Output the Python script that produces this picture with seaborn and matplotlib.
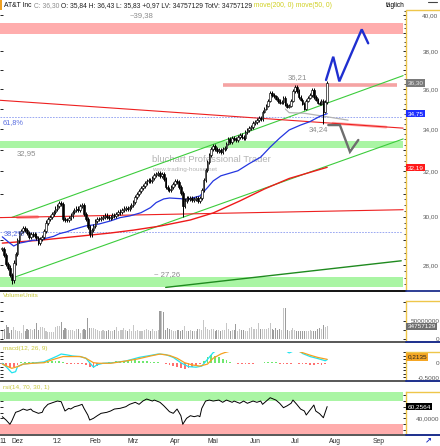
import numpy as np
import pandas as pd
import matplotlib
matplotlib.use("Agg")
import matplotlib.pyplot as plt
import matplotlib.transforms as mtransforms
from matplotlib.lines import Line2D
from matplotlib.patches import Rectangle
from matplotlib.ticker import FixedLocator, FuncFormatter, NullFormatter
import seaborn as sns

# ---------------- data (x = trading day, 0 = 1 Dec 2011) ----------------
first_day = -8
closes = [
    28.65, 28.40, 28.05, 27.90, 27.60, 27.40, 28.10, 28.45,
    29.00, 29.30, 29.40, 29.50, 29.45, 29.30, 29.15, 29.25, 29.25, 29.20,
    29.10, 28.90, 29.05, 29.15, 29.40, 29.75, 29.90, 30.00, 30.10, 30.20,
    30.35, 30.45, 30.60, 30.55, 29.90, 29.85, 29.85, 29.95, 30.05, 30.20,
    30.30, 30.35, 30.30, 30.45, 30.50, 30.10, 29.90, 29.55, 29.25, 29.45,
    29.60, 29.80, 29.90, 29.90, 29.95, 30.00, 30.05, 30.00, 29.95, 30.00,
    30.08, 30.05, 30.12, 30.18, 30.22, 30.30, 30.35, 30.38, 30.35, 30.42,
    30.50, 30.62, 30.85, 31.00, 31.10, 31.25, 31.35, 31.48, 31.55, 31.62,
    31.58, 31.70, 31.82, 31.88, 31.92, 31.80, 31.88, 31.65, 31.28, 31.20,
    31.15, 31.30, 31.42, 31.55, 31.50, 31.30, 31.05, 30.45, 30.70, 30.82,
    30.78, 30.80, 30.72, 30.75, 30.82, 30.70, 30.82, 31.15, 31.60, 32.05,
    32.45, 32.75, 33.05, 33.20, 33.05, 32.95, 33.00, 32.90, 33.05, 33.10,
    33.30, 33.50, 33.35, 33.55, 33.50, 33.45, 33.62, 33.70, 33.60, 33.55,
    33.85, 33.95, 34.05, 34.10, 34.28, 34.35, 34.43, 34.55, 34.50, 34.85,
    35.00, 35.15, 35.40, 35.80, 35.70, 35.62, 35.50, 35.38, 35.30, 35.32,
    35.55, 35.20, 35.10, 35.15, 35.40, 35.90, 36.10, 35.90, 35.60, 35.45,
    35.25, 35.00, 35.40, 35.55, 35.70, 35.95, 35.60, 35.45, 35.30, 35.25,
    35.40, 34.85, 35.33, 36.30,
]
volumes = [  # million shares
    23, 27, 38, 34, 16, 25, 34, 25, 23, 21,
    16, 38, 21, 27, 25, 27, 25, 27, 45, 25,
    34, 32, 30, 21, 19, 19, 19, 19, 34, 36,
    36, 47, 25, 30, 27, 25, 25, 25, 23, 27,
    27, 18, 25, 27, 24, 56,
    30, 30, 30, 27, 25,
    23, 23, 25, 23, 23, 25, 23, 23, 25, 34,
    21, 25, 25, 30, 25, 23, 27, 21, 38, 23,
    26, 22,
    21, 21, 25, 27, 25, 21, 27, 21, 21, 25,
    77, 77, 74,
    25, 31, 27, 25, 23, 23, 25,
    25, 21, 25, 36, 23, 23, 25, 21, 21, 23,
    27, 27, 24, 52,
    34, 27, 25, 27, 27, 23, 25,
    25, 23, 25, 25, 43, 27, 23, 25, 25, 41,
    23, 27, 25, 25, 23, 23, 30, 32, 27, 27,
    27, 43, 27, 27, 27, 27, 30, 43, 27, 25,
    30, 25, 28, 24, 83, 83,
    25, 21, 25, 30, 25, 23,
    23, 23, 23, 21, 23, 23, 25, 21, 23, 23,
    27, 30, 27, 38, 34, 34.76,
]
wick_lows = {-3: 27.26, 87: 30.00, 161: 34.24}
wick_highs = {146: 36.21, 163: 36.43}

ma50_days = [-8, -5, -2, 1, 5, 8, 12, 15, 19, 22, 26, 29, 33, 36, 40, 43, 49, 54, 59, 65,
             70, 73, 77, 80, 86, 89, 92, 96, 100, 103, 107, 116, 122, 128, 133, 138, 143,
             149, 154, 159, 163]
ma50_vals = [29.15, 28.95, 28.77, 28.89, 28.95, 29.01, 29.01, 29.09, 29.17, 29.28, 29.36,
             29.45, 29.54, 29.61, 29.65, 29.69, 29.82, 29.96, 30.03, 30.17, 30.39, 30.61,
             30.77, 30.81, 30.78, 30.74, 30.81, 30.90, 31.27, 31.57, 31.80, 32.03, 32.36,
             32.66, 33.13, 33.56, 33.95, 34.19, 34.36, 34.61, 34.75]
ma200_days = [-8, 12, 33, 49, 61, 75, 91, 103, 117, 130, 143, 163]
ma200_vals = [28.89, 29.01, 29.18, 29.31, 29.43, 29.60, 29.86, 30.16, 30.68, 31.21, 31.68, 32.19]

macd_days = [-8, -6, -3, -1, 0, 3, 7, 10, 14, 17, 21, 23, 26, 29, 33, 36, 38, 40, 42, 45,
             50, 57, 64, 70, 74, 78, 82, 86, 90, 94, 97, 100, 103, 106, 112, 120, 128, 134,
             138, 141, 143, 145, 147, 149, 150, 154, 158, 162, 163]
macd_vals = [-0.01, -0.13, -0.35, -0.31, -0.13, -0.04, -0.01, 0.01, 0.04, 0.13, 0.25, 0.32,
             0.29, 0.25, 0.23, 0.17, 0.01, -0.15, -0.06, -0.01, 0.01, 0.07, 0.20, 0.27, 0.32,
             0.30, 0.20, 0.01, -0.13, -0.15, -0.11, 0.13, 0.37, 0.50, 0.60, 0.55, 0.50, 0.55,
             0.50, 0.45, 0.36, 0.42, 0.44, 0.40, 0.34, 0.23, 0.16, 0.08, 0.12]
signal_days = [-8, -6, -3, 0, 3, 8, 14, 19, 24, 28, 33, 36, 40, 43, 49, 56, 63, 70, 75, 80,
               84, 88, 92, 96, 100, 103, 107, 109, 115, 125, 135, 143, 148, 150, 154, 158, 163]
signal_vals = [-0.04, -0.10, -0.19, -0.13, -0.04, -0.01, 0.01, 0.13, 0.23, 0.23, 0.23, 0.17,
               0.01, -0.01, -0.01, 0.06, 0.14, 0.25, 0.32, 0.27, 0.17, 0.01, -0.07, -0.11,
               -0.04, 0.17, 0.32, 0.37, 0.48, 0.52, 0.50, 0.47, 0.42, 0.37, 0.28, 0.20, 0.13]
hist_days = list(range(-8, 163, 2))
hist_vals = [-0.05, -0.12, -0.18, -0.15, -0.06, 0.03, 0.05, 0.04, 0.03, 0.02,
             0.00, 0.02, 0.05, 0.07, 0.08, 0.07, 0.03, -0.02, -0.03, -0.02,
             -0.03, -0.02, -0.08, -0.16, -0.18, -0.10, -0.04, 0.00, 0.02, 0.04,
             0.06, 0.05, 0.06, 0.08, 0.09, 0.10, 0.08, 0.07, 0.06, 0.05,
             0.04, 0.02, 0.00, -0.03, -0.08, -0.12, -0.15, -0.17, -0.20, -0.18,
             -0.14, -0.10, -0.05, 0.08, 0.20, 0.28, 0.25, 0.20, 0.15, 0.10,
             0.05, 0.01, -0.02, -0.03, -0.03, -0.02, -0.03, -0.01, 0.01, 0.04,
             0.05, 0.04, 0.02, -0.02, -0.05, -0.05, -0.03, 0.00, -0.02, -0.04,
             -0.05, -0.06, -0.06, -0.05, -0.06, -0.04]

rsi_days = [-8, -6, -4, -3, -1, 1, 3, 5, 7, 8, 11, 13, 14, 16, 19, 21, 23, 25, 27, 28, 30,
            32, 34, 35, 37, 38, 40, 42, 44, 47, 49, 51, 54, 57, 59, 62, 64, 66, 68, 71, 72,
            75, 77, 78, 80, 82, 84, 86, 87, 89, 91, 93, 95, 96, 97, 99, 101, 103, 106, 108,
            110, 113, 114, 117, 119, 121, 124, 126, 128, 129, 131, 133, 136, 138, 140, 142,
            144, 145, 147, 149, 151, 152, 154, 156, 157, 159, 161, 163]
rsi_vals = [42.8, 37, 29.7, 35.4, 50.3, 52.6, 56, 53.8, 56, 52.6, 48.6, 50.3, 57.2, 64.1,
            67.6, 69.8, 68.6, 52.6, 57.2, 56, 60, 61.7, 64.1, 57.2, 45.7, 37, 40, 44.5, 48.6,
            50.3, 52.6, 56, 57.2, 60, 64.1, 67.6, 64.1, 69.8, 73.3, 69.8, 71.5, 67.6, 61.7,
            58.3, 51.4, 48.6, 56, 44.5, 29.7, 40, 44.5, 42.8, 44.5, 42.8, 57.2, 69.8, 71.5,
            69.8, 71.5, 67.6, 71.5, 67.6, 69.8, 65.9, 69.8, 65.9, 69.8, 67.6, 69.8, 64.1,
            69.8, 75.5, 71.5, 65.9, 58.3, 61.7, 65.9, 71.5, 64.1, 56, 52.6, 45.7, 54.3, 62.9,
            52.6, 48, 41, 60.26]

month_days = [-7.6, 0, 21, 41, 61, 83, 103, 125, 146, 167, 190]
month_names = ["11", "Dez", "'12", "Feb", "Mrz", "Apr", "Mai", "Jun", "Jul", "Aug", "Sep"]

# drawn analysis objects (levels in price, ends in trading days)
top_band = (38.96, 39.55)
mid_band = (33.07, 33.43)
low_band = (27.15, 27.51)
resistance, resistance_days = 36.21, (108, 200)
fib_levels = [34.60, 29.36]
channel_days = [-3, 203]
channel_upper = [29.97, 36.69]
channel_lower = [27.48, 33.52]
red_down_days, red_down = [-9.2, 203], [35.42, 34.04]
red_flat_days, red_flat = [-9.2, 203], [29.96, 30.30]
support_days, support = [78, 202], [27.12, 28.17]
neck_days, neck_vals = [141, 143, 151, 162, 174], [34.98, 34.80, 34.77, 34.61, 34.43]
bull_days, bull_vals = [162.4, 166.2, 169.4, 181.2, 184.6], [36.46, 37.69, 36.39, 39.19, 38.42]
bear_days, bear_vals = [163.6, 169.7, 175, 179.4], [34.19, 34.19, 32.91, 33.47]

# ---------------- figure ----------------
sns.set_style("white")
plt.rcParams["font.family"] = ["Liberation Sans", "DejaVu Sans"]

W, H = 440.0, 446.0
fig = plt.figure(figsize=(4.4, 4.46), dpi=100)


def px_box(x0, y0, x1, y1):
    return [x0 / W, 1 - y1 / H, (x1 - x0) / W, (y1 - y0) / H]


def fig_text(px, py, s, **kw):
    return fig.text(px / W, 1 - py / H, s, **kw)


def fig_line(x0, x1, y, **kw):
    fig.add_artist(Line2D([x0 / W, x1 / W], [1 - y / H] * 2, transform=fig.transFigure, **kw))


ax = fig.add_axes(px_box(0, 10, 406, 290))
ax_vol = fig.add_axes(px_box(0, 301, 406, 340), sharex=ax)
ax_macd = fig.add_axes(px_box(0, 352.3, 406, 380), sharex=ax)
ax_rsi = fig.add_axes(px_box(0, 391.7, 406, 433.5), sharex=ax)

YELLOW = "#eec64a"
for a in (ax, ax_vol, ax_macd, ax_rsi):
    a.set_facecolor("white")
    for s in ("top", "left", "bottom"):
        a.spines[s].set_visible(False)
    a.spines["right"].set_color(YELLOW)
    a.spines["right"].set_linewidth(1.0)
ax.spines["right"].set_linestyle((0, (1, 1)))

days = np.arange(first_day, first_day + len(closes))
price = pd.DataFrame({"day": days, "close": closes, "volume": volumes})
price["open"] = price["close"].shift(1).fillna(price["close"].iloc[0])
price["up"] = price["close"] >= price["open"]
body_lo = price[["open", "close"]].min(axis=1)
body_hi = price[["open", "close"]].max(axis=1)
wick = 0.09
lo = (body_lo - wick).copy()
hi = (body_hi + wick).copy()
for d, v in wick_lows.items():
    lo[price["day"] == d] = v
for d, v in wick_highs.items():
    hi[price["day"] == d] = v

# bands and levels
ax.axhspan(*top_band, xmax=0.993, color="#ffadad", lw=0, zorder=1)
ax.axhspan(*mid_band, xmax=0.993, color="#aaf5a4", lw=0, zorder=1)
ax.axhspan(*low_band, xmax=0.993, color="#aaf5a4", lw=0, zorder=1)
for lv in fib_levels:
    ax.axhline(lv, xmax=0.99, color="#8a9af0", lw=0.6, ls=(0, (2, 1.5)), zorder=2)
ax.hlines(resistance, *resistance_days, color="#f5a3a3", lw=2.6, zorder=2)

# trend lines
ax.plot(channel_days, channel_upper, color="#3ccc3c", lw=0.8, zorder=2)
ax.plot(channel_days, channel_lower, color="#3ccc3c", lw=0.8, zorder=2)
ax.plot(red_down_days, red_down, color="#ee2020", lw=0.8, zorder=2)
ax.plot(red_flat_days, red_flat, color="#ee2020", lw=0.8, zorder=2)
ax.plot([0, 10.5], [29.975, 29.99], color="#ffaaaa", lw=2.4, zorder=1.5)
ax.plot([166, 194], [34.28, 34.09], color="#ffaaaa", lw=2.0, zorder=1.5)
ax.plot(support_days, support, color="#1f8a1f", lw=1.0, zorder=2)
ax.plot(neck_days, neck_vals, color="#b4b4b4", lw=0.9, zorder=2)

# moving averages
sns.lineplot(x=ma200_days, y=ma200_vals, ax=ax, color="#ee1a1a", linewidth=1.0, zorder=3)
sns.lineplot(x=ma50_days, y=ma50_vals, ax=ax, color="#2436e0", linewidth=0.9, zorder=3)

# watermark
ax.text(211 / W, 1 - 159 / H, "bluchart Professional Trader", transform=fig.transFigure,
        ha="center", va="center", fontsize=6.8, color="#b5b5b5", zorder=1)
ax.text(185 / W, 1 - 169.5 / H, "www.trading-house.net", transform=fig.transFigure,
        ha="center", va="center", fontsize=4.6, color="#b5b5b5", zorder=1)

# candles
ax.vlines(price["day"], lo, hi, color="black", lw=0.7, zorder=4)
ax.bar(price["day"], (body_hi - body_lo).clip(lower=0.02), bottom=body_lo, width=0.85,
       color=np.where(price["up"], "white", "black"), edgecolor="black", linewidth=0.45, zorder=5)

# scenario paths
ax.plot(bull_days, bull_vals, color="#1f2fd0", lw=1.7, zorder=6, solid_joinstyle="miter")
ax.plot(bear_days, bear_vals, color="#6e6e6e", lw=1.7, zorder=6, solid_joinstyle="miter")

ax.set_yscale("log")
ax.set_ylim(27.02, 40.29)
ax.yaxis.set_major_locator(FixedLocator(list(range(27, 41))))
ax.yaxis.set_major_formatter(FuncFormatter(
    lambda v, p: f"{v:.2f}".replace(".", ",") if int(round(v)) % 2 == 0 else ""))
ax.yaxis.set_minor_locator(FixedLocator(np.arange(27.25, 40.3, 0.25)))
ax.yaxis.set_minor_formatter(NullFormatter())
ax.tick_params(axis="y", which="major", left=True, right=True, labelleft=False, labelright=True,
               direction="in", length=2.5, width=0.6, pad=23.4, labelsize=4.6,
               labelcolor="#5a5a5a", color="black")
ax.tick_params(axis="y", which="minor", left=False, right=True, direction="in",
               length=1.5, width=0.5, color="black")
for lab in ax.get_yticklabels():
    lab.set_horizontalalignment("right")
ax.tick_params(axis="x", bottom=False, labelbottom=False)
ax.set_xlabel("")
ax.set_ylabel("")

# ---------------- volume ----------------
ax_vol.bar(price["day"], price["volume"], width=0.55,
           color=np.where(price["up"], "#c6c6c6", "#9c9c9c"), linewidth=0)
ax_vol.set_ylim(-1.9, 102.8)
ax_vol.spines["right"].set_bounds(-1.9, 102.8)
ax_vol.yaxis.set_major_locator(FixedLocator([0, 25, 50, 75, 100]))
ax_vol.yaxis.set_major_formatter(FuncFormatter(
    lambda v, p: {0: "0", 50: "50000000"}.get(int(round(v)), "")))

# ---------------- macd ----------------
ax_macd.bar(hist_days, hist_vals, width=0.9,
            color=["#6fe86f" if v >= 0 else "#ff7070" for v in hist_vals], linewidth=0)
sns.lineplot(x=macd_days, y=macd_vals, ax=ax_macd, color="#22e3ee", linewidth=0.9)
sns.lineplot(x=signal_days, y=signal_vals, ax=ax_macd, color="#f5a020", linewidth=0.9)
ax_macd.set_ylim(-0.607, 0.382)
ax_macd.yaxis.set_major_locator(FixedLocator([-0.5, -0.375, -0.25, -0.125, 0, 0.125, 0.25, 0.375]))
ax_macd.yaxis.set_major_formatter(FuncFormatter(
    lambda v, p: "0" if abs(v) < 1e-9 else ("-0,5000" if abs(v + 0.5) < 1e-9 else "")))

# ---------------- rsi ----------------
ax_rsi.axhspan(70, 100, xmax=0.993, color="#aaf5a4", lw=0)
ax_rsi.axhspan(0, 30, xmax=0.993, color="#ffadad", lw=0)
sns.lineplot(x=rsi_days, y=rsi_vals, ax=ax_rsi, color="black", linewidth=0.7)
ax_rsi.set_ylim(13.8, 85.9)
ax_rsi.yaxis.set_major_locator(FixedLocator([20, 30, 40, 50, 60, 70, 80]))
ax_rsi.yaxis.set_major_formatter(FuncFormatter(
    lambda v, p: {40: "40,0000"}.get(int(round(v)), "")))

for a in (ax_vol, ax_macd, ax_rsi):
    a.tick_params(axis="y", which="major", left=True, right=True, labelleft=False,
                  labelright=True, direction="in", length=2, width=0.6, pad=24.2,
                  labelsize=4.6, labelcolor="#5a5a5a", color="black")
    for lab in a.get_yticklabels():
        lab.set_horizontalalignment("right")
    a.set_xlabel("")
    a.set_ylabel("")
for a in (ax_vol, ax_macd):
    a.tick_params(axis="x", bottom=False, labelbottom=False)

ax_rsi.set_xticks(month_days)
ax_rsi.set_xticklabels(month_names)
ax_rsi.tick_params(axis="x", bottom=True, length=0, pad=3.2, labelsize=4.9, labelcolor="#303030")
ax.set_xlim(-9.21, 204.5)


# ---------------- value boxes on the right scale ----------------
def value_box(a, value, s, fc, tc):
    tr = mtransforms.blended_transform_factory(a.transAxes, a.transData)
    a.text(1 + 1.5 / 406, value, s, transform=tr, ha="left", va="center", fontsize=4.6,
           color=tc, zorder=10, clip_on=False,
           bbox=dict(boxstyle="square,pad=0.18", fc=fc, ec="none"))


value_box(ax, 36.30, "36,30", "#7a7a7a", "#e6e6e6")
value_box(ax, 34.75, "34,75", "#1f2fff", "white")
value_box(ax, 32.19, "32,19", "#ff1a1a", "white")
value_box(ax_vol, 34.76, "34757129", "#6e6e6e", "white")
value_box(ax_macd, 0.2135, "0,2135", "#f5a623", "#202020")
value_box(ax_rsi, 60.2564, "60,2564", "black", "white")

# ---------------- frame lines ----------------
fig_line(406, 440, 10, color=YELLOW, lw=1.0)
fig_line(406, 440, 301, color=YELLOW, lw=1.0)
fig_line(406, 440, 352.3, color=YELLOW, lw=1.0)
fig_line(406, 440, 391.7, color=YELLOW, lw=1.0)
fig_line(0, 406, 290.5, color="black", lw=1.3)
fig_line(406, 440, 290.5, color="#1c2f8c", lw=1.3)
for y in (341.5, 381.2, 434.6):
    fig_line(0, 406, y, color="#575757", lw=1.4)
    fig_line(406, 440, y, color="#1c2f8c", lw=1.4)

# ---------------- texts ----------------
fig.add_artist(Rectangle((0, 1 - 10 / H), 1.8 / W, 10 / H, transform=fig.transFigure,
                         color="#f0a020", lw=0))
title_parts = [("AT&T Inc", "#101010"), (" C: 36,30", "#8c8c8c"),
               (" O: 35,84 H: 36,43 L: 35,83 +0,97 LV: 34757129 TotV: 34757129", "#202020"),
               (" move(200, 0)", "#d0d020"), (" move(50, 0)", "#d0d020")]
prev = fig_text(4, 5.5, title_parts[0][0], ha="left", va="center", fontsize=4.85,
                color=title_parts[0][1])
for s, c in title_parts[1:]:
    prev = ax.annotate(s, xy=(1, 0.5), xycoords=prev, ha="left", va="center", fontsize=4.85,
                       color=c, annotation_clip=False)
fig_text(395, 5.5, "täglich", ha="center", va="center", fontsize=4.7, color="black")
fig_line(428, 437, 2.0, color="#444444", lw=0.8)

lbl = dict(ha="center", va="center", fontsize=5.6, color="#8c8c8c")
fig_text(141.5, 16, "~39,38", **lbl)
fig_text(297, 78, "36,21", **lbl)
fig_text(318, 130, "34,24", **lbl)
fig_text(26.5, 154, "32,95", **lbl)
fig_text(167, 274.5, "~ 27,26", **lbl)
fig_text(3, 122.5, "61,8%", ha="left", va="center", fontsize=5.3, color="#5a6fe0")
fig_text(4, 234, "38,2%", ha="left", va="center", fontsize=5.3, color="#5a6fe0")

panel_lbl = dict(ha="left", va="center", fontsize=4.6, color="#c8c83c")
fig_text(3, 295.5, "VolumeUnits", **panel_lbl)
fig_text(3, 348.5, "macd(12, 26, 9)", **panel_lbl)
fig_text(3, 387.5, "rsi(14, 70, 30, 1)", **panel_lbl)
fig_text(428, 441, "↗", ha="center", va="center", fontsize=6, color="#2030c0", fontweight="bold")

fig.savefig("out.png", dpi=100)
